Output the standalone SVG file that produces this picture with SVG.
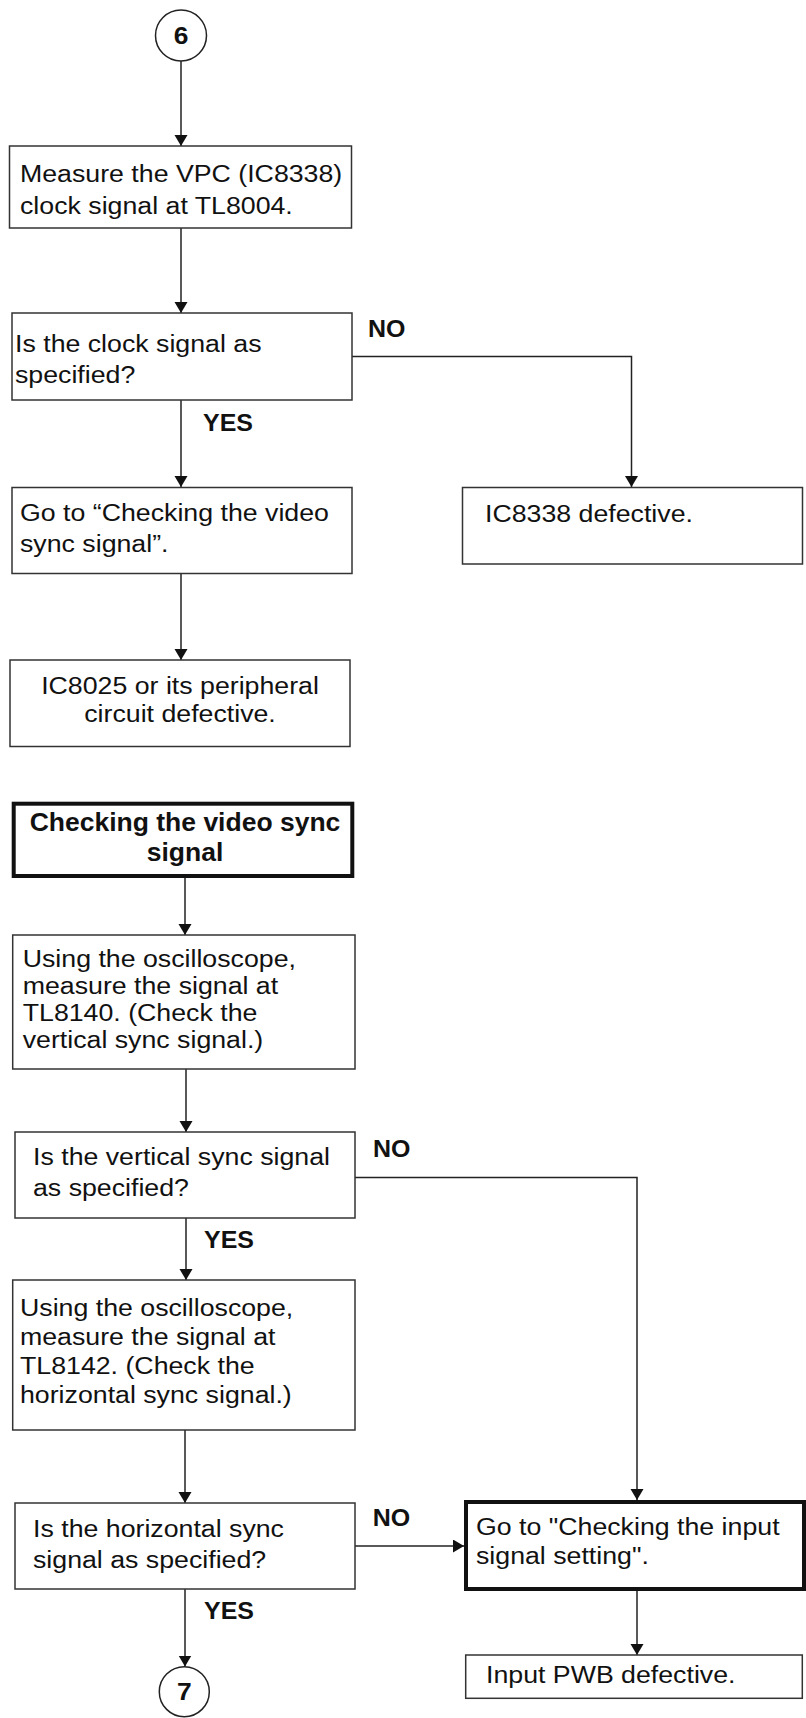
<svg xmlns="http://www.w3.org/2000/svg" width="806" height="1718" viewBox="0 0 806 1718">
<style>
.box{fill:#fff;stroke:#333;stroke-width:1.5}
.thick{fill:#fff;stroke:#111;stroke-width:4}
.t{font-family:"Liberation Sans",Arial,sans-serif;font-size:24.3px;fill:#111}
.b{font-family:"Liberation Sans",Arial,sans-serif;font-weight:bold;fill:#111}
.hd{font-size:25px}
.lb{font-size:24px}
.dg{font-size:24px}
.cn{fill:none;stroke:#222;stroke-width:1.5;marker-end:url(#ah)}
</style>
<defs>
<marker id="ah" markerUnits="userSpaceOnUse" markerWidth="14" markerHeight="14" refX="11" refY="6.5" orient="auto">
<path d="M0,0 L11,6.5 L0,13 z" fill="#111"/>
</marker>
</defs>
<rect width="806" height="1718" fill="#fff"/>
<g id="connectors">
<path class="cn" d="M181,61 V146"/>
<path class="cn" d="M181,228 V313"/>
<path class="cn" d="M181,400 V487"/>
<path class="cn" d="M352,356.5 H631.5 V487"/>
<path class="cn" d="M181,573.5 V660"/>
<path class="cn" d="M185,878 V935"/>
<path class="cn" d="M186,1069 V1132"/>
<path class="cn" d="M186,1218 V1280"/>
<path class="cn" d="M355,1177.5 H637 V1500"/>
<path class="cn" d="M185,1430 V1503"/>
<path class="cn" d="M355,1546 H464"/>
<path class="cn" d="M185,1589 V1666.5"/>
<path class="cn" d="M637,1591 V1655"/>
<text class="b lb" transform="translate(368,336.7) scale(1.04,1)">NO</text>
<text class="b lb" transform="translate(203,431) scale(1.04,1)">YES</text>
<text class="b lb" transform="translate(373,1157) scale(1.04,1)">NO</text>
<text class="b lb" transform="translate(204,1248) scale(1.04,1)">YES</text>
<text class="b lb" transform="translate(372.7,1525.7) scale(1.04,1)">NO</text>
<text class="b lb" transform="translate(204,1618.5) scale(1.04,1)">YES</text>
</g>
<g id="start6">
<circle cx="181" cy="35.5" r="25.5" fill="#fff" stroke="#222" stroke-width="1.5"/>
<text class="b dg" text-anchor="middle" transform="translate(181,44.3) scale(1.1,1)">6</text>
</g>
<g id="measureVPC">
<rect class="box" x="9.5" y="146" width="342" height="82"/>
<text class="t" transform="translate(20,182) scale(1.1,1)"><tspan x="0" y="0">Measure the VPC (IC8338)</tspan><tspan x="0" y="32">clock signal at TL8004.</tspan></text>
</g>
<g id="clockOK">
<rect class="box" x="12" y="313" width="340" height="87"/>
<text class="t" transform="translate(15,352) scale(1.1,1)"><tspan x="0" y="0">Is the clock signal as</tspan><tspan x="0" y="31">specified?</tspan></text>
</g>
<g id="ic8338">
<rect class="box" x="462.5" y="487.5" width="340" height="76.5"/>
<text class="t" transform="translate(485,522) scale(1.1,1)">IC8338 defective.</text>
</g>
<g id="gotoVideoSync">
<rect class="box" x="12" y="487.5" width="340" height="86"/>
<text class="t" transform="translate(20,521) scale(1.1,1)"><tspan x="0" y="0">Go to “Checking the video</tspan><tspan x="0" y="31">sync signal”.</tspan></text>
</g>
<g id="ic8025">
<rect class="box" x="10" y="660" width="340" height="86.5"/>
<text class="t" text-anchor="middle" transform="translate(180,694) scale(1.1,1)"><tspan x="0" y="0">IC8025 or its peripheral</tspan><tspan x="0" y="28">circuit defective.</tspan></text>
</g>
<g id="headerVideoSync">
<rect class="thick" x="13.7" y="803.7" width="338.6" height="72.3"/>
<text class="b hd" text-anchor="middle" transform="translate(185,831) scale(1.06,1)"><tspan x="0" y="0">Checking the video sync</tspan><tspan x="0" y="30">signal</tspan></text>
</g>
<g id="measureV">
<rect class="box" x="12.7" y="935" width="342.3" height="134"/>
<text class="t" transform="translate(22.7,967) scale(1.1,1)"><tspan x="0" y="0">Using the oscilloscope,</tspan><tspan x="0" y="27">measure the signal at</tspan><tspan x="0" y="54">TL8140. (Check the</tspan><tspan x="0" y="81">vertical sync signal.)</tspan></text>
</g>
<g id="vsyncOK">
<rect class="box" x="15" y="1132" width="340" height="86"/>
<text class="t" transform="translate(33,1165) scale(1.1,1)"><tspan x="0" y="0">Is the vertical sync signal</tspan><tspan x="0" y="31">as specified?</tspan></text>
</g>
<g id="measureH">
<rect class="box" x="12.7" y="1280" width="342.3" height="150"/>
<text class="t" transform="translate(20,1316) scale(1.1,1)"><tspan x="0" y="0">Using the oscilloscope,</tspan><tspan x="0" y="29">measure the signal at</tspan><tspan x="0" y="58.5">TL8142. (Check the</tspan><tspan x="0" y="87">horizontal sync signal.)</tspan></text>
</g>
<g id="hsyncOK">
<rect class="box" x="15" y="1503" width="340" height="86"/>
<text class="t" transform="translate(33,1537) scale(1.1,1)"><tspan x="0" y="0">Is the horizontal sync</tspan><tspan x="0" y="31">signal as specified?</tspan></text>
</g>
<g id="gotoInput">
<rect class="thick" x="466" y="1502" width="338" height="87"/>
<text class="t" transform="translate(476,1535) scale(1.1,1)"><tspan x="0" y="0">Go to "Checking the input</tspan><tspan x="0" y="29">signal setting".</tspan></text>
</g>
<g id="inputPWB">
<rect class="box" x="465.7" y="1655" width="336.6" height="43.3"/>
<text class="t" transform="translate(486,1683) scale(1.1,1)">Input PWB defective.</text>
</g>
<g id="end7">
<circle cx="184.3" cy="1691.7" r="25" fill="#fff" stroke="#222" stroke-width="1.5"/>
<text class="b dg" text-anchor="middle" transform="translate(184.3,1700.3) scale(1.1,1)">7</text>
</g>
</svg>
